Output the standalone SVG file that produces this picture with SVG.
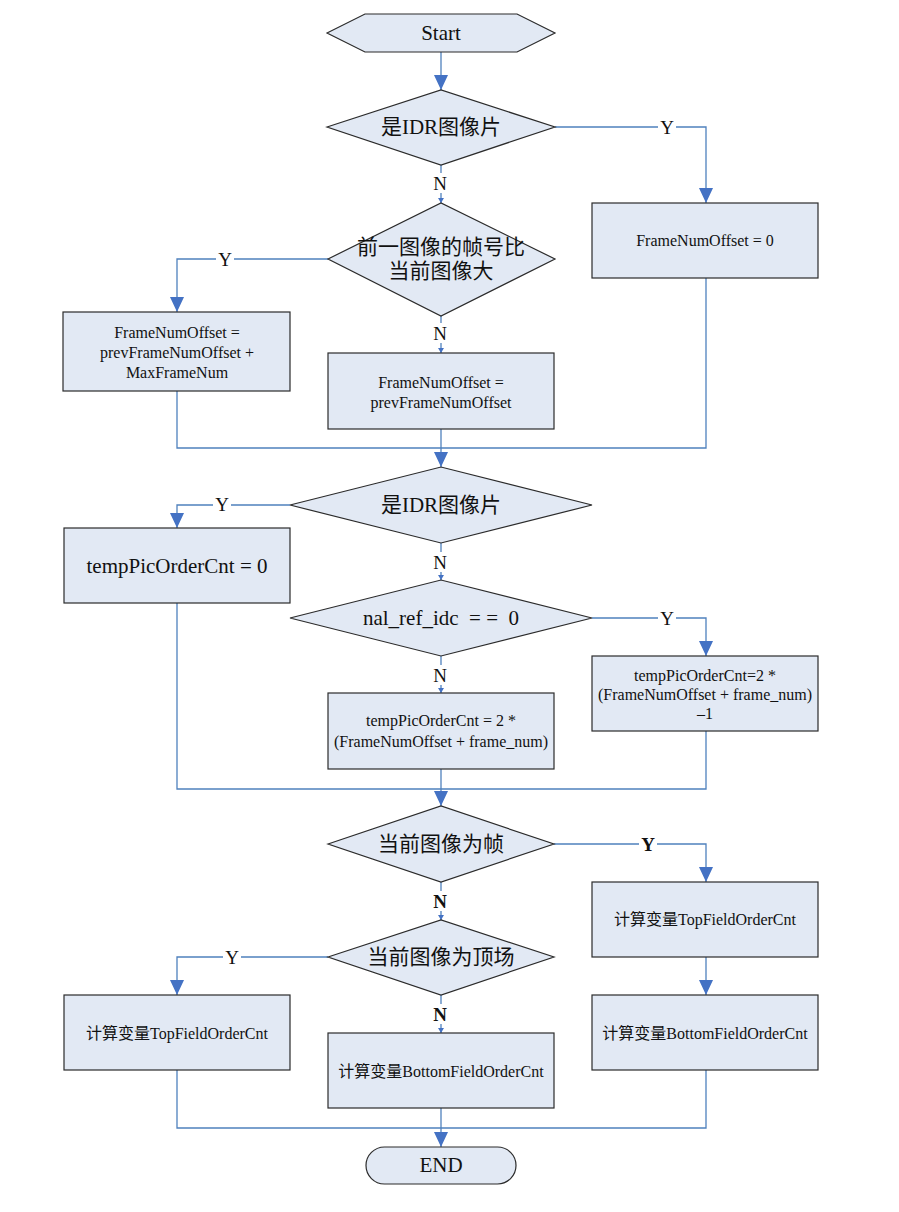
<svg xmlns="http://www.w3.org/2000/svg" width="899" height="1212" viewBox="0 0 899 1212">
<defs>
<style>
.n{fill:#e2e9f4;stroke:#2b2b2b;stroke-width:1.2}
.c{fill:none;stroke:#4f81bd;stroke-width:1.3}
.t{font-family:"Liberation Serif","Noto Sans CJK SC",serif;fill:#111;text-anchor:middle;dominant-baseline:central}
.big{font-size:21px}
.mid{font-size:21px}
.sm{font-size:16px}
.lb{font-size:19px}
.bg{fill:#fff}
</style>
<marker id="a" markerUnits="userSpaceOnUse" markerWidth="16" markerHeight="14" refX="15" refY="7" orient="auto" viewBox="0 0 16 14">
<path d="M0,0 L15,7 L0,14 Z" fill="#4472c4"/>
</marker>
<marker id="s" markerUnits="userSpaceOnUse" markerWidth="6" markerHeight="6" refX="5" refY="3" orient="auto" viewBox="0 0 6 6">
<path d="M0,0 L5,3 L0,6 Z" fill="#4472c4"/>
</marker>
</defs>
<rect width="899" height="1212" fill="#fff"/>
<g id="connectors">
<path class="c" d="M441,52 V90" marker-end="url(#a)"/>
<path class="c" d="M555,127 H706 V203" marker-end="url(#a)"/>
<path class="c" d="M441,165 V203" marker-end="url(#s)"/>
<path class="c" d="M328,259 H177 V312" marker-end="url(#a)"/>
<path class="c" d="M441,316 V353" marker-end="url(#s)"/>
<path class="c" d="M177,391 V448 H706 V278"/>
<path class="c" d="M441,429 V467" marker-end="url(#a)"/>
<path class="c" d="M290,505 H177 V528" marker-end="url(#a)"/>
<path class="c" d="M441,543 V580" marker-end="url(#s)"/>
<path class="c" d="M592,618 H706 V656" marker-end="url(#a)"/>
<path class="c" d="M441,656 V693" marker-end="url(#s)"/>
<path class="c" d="M177,603 V789 H706 V731"/>
<path class="c" d="M441,769 V806" marker-end="url(#a)"/>
<path class="c" d="M554,844 H706 V882" marker-end="url(#a)"/>
<path class="c" d="M706,957 V995" marker-end="url(#a)"/>
<path class="c" d="M441,882 V920" marker-end="url(#s)"/>
<path class="c" d="M328,957 H177 V995" marker-end="url(#a)"/>
<path class="c" d="M441,995 V1033" marker-end="url(#s)"/>
<path class="c" d="M177,1070 V1128 H706 V1070"/>
<path class="c" d="M441,1108 V1147" marker-end="url(#a)"/>
<g id="labels">
<rect class="bg" x="658" y="117" width="18" height="20"/><text class="t lb" x="667" y="127">Y</text>
<rect class="bg" x="431" y="173" width="18" height="20"/><text class="t lb" x="440" y="183">N</text>
<rect class="bg" x="216" y="249" width="18" height="20"/><text class="t lb" x="225" y="259">Y</text>
<rect class="bg" x="431" y="323" width="18" height="20"/><text class="t lb" x="440" y="333">N</text>
<rect class="bg" x="213" y="494" width="18" height="20"/><text class="t lb" x="222" y="504">Y</text>
<rect class="bg" x="431" y="552" width="18" height="20"/><text class="t lb" x="440" y="562">N</text>
<rect class="bg" x="658" y="608" width="18" height="20"/><text class="t lb" x="667" y="618">Y</text>
<rect class="bg" x="431" y="665" width="18" height="20"/><text class="t lb" x="440" y="675">N</text>
<rect class="bg" x="639" y="834" width="18" height="20"/><text class="t lb" x="648" y="844" font-weight="bold">Y</text>
<rect class="bg" x="431" y="891" width="18" height="20"/><text class="t lb" x="440" y="901" font-weight="bold">N</text>
<rect class="bg" x="223" y="947" width="18" height="20"/><text class="t lb" x="232" y="957">Y</text>
<rect class="bg" x="431" y="1004" width="18" height="20"/><text class="t lb" x="440" y="1014" font-weight="bold">N</text>
</g>
</g>
<g id="start"><polygon class="n" points="327,33 365,14 517,14 555,33 517,52 365,52"/><text class="t mid" x="441" y="33">Start</text></g>
<g id="d1"><polygon class="n" points="327,127 441,90 555,127 441,165"/><text class="t big" x="441" y="127">是IDR图像片</text></g>
<g id="b1"><rect class="n" x="592" y="203" width="226" height="75"/><text class="t sm" x="705" y="240">FrameNumOffset = 0</text></g>
<g id="d2"><polygon class="n" points="328,259 441,203 555,259 441,316"/><text class="t big" x="441" y="247">前一图像的帧号比</text><text class="t big" x="441" y="271">当前图像大</text></g>
<g id="b2"><rect class="n" x="63" y="312" width="227" height="79"/><text class="t sm" x="177" y="332">FrameNumOffset =</text><text class="t sm" x="177" y="352">prevFrameNumOffset +</text><text class="t sm" x="177" y="372">MaxFrameNum</text></g>
<g id="b3"><rect class="n" x="328" y="353" width="226" height="76"/><text class="t sm" x="441" y="382">FrameNumOffset =</text><text class="t sm" x="441" y="402">prevFrameNumOffset</text></g>
<g id="d3"><polygon class="n" points="290,505 441,467 592,505 441,543"/><text class="t big" x="441" y="505">是IDR图像片</text></g>
<g id="b4"><rect class="n" x="64" y="528" width="226" height="75"/><text class="t mid" x="177" y="566">tempPicOrderCnt = 0</text></g>
<g id="d4"><polygon class="n" points="290,618 441,580 592,618 441,656"/><text class="t mid" x="441" y="618" xml:space="preserve">nal_ref_idc  = =  0</text></g>
<g id="b5"><rect class="n" x="592" y="656" width="226" height="75"/><text class="t sm" x="705" y="675">tempPicOrderCnt=2 *</text><text class="t sm" x="705" y="694">(FrameNumOffset + frame_num)</text><text class="t sm" x="705" y="713">–1</text></g>
<g id="b6"><rect class="n" x="328" y="693" width="226" height="76"/><text class="t sm" x="441" y="720">tempPicOrderCnt = 2 *</text><text class="t sm" x="441" y="741">(FrameNumOffset + frame_num)</text></g>
<g id="d5"><polygon class="n" points="328,844 441,806 554,844 441,882"/><text class="t big" x="441" y="844">当前图像为帧</text></g>
<g id="b7"><rect class="n" x="592" y="882" width="226" height="75"/><text class="t sm" x="705" y="919">计算变量TopFieldOrderCnt</text></g>
<g id="b8"><rect class="n" x="592" y="995" width="226" height="75"/><text class="t sm" x="705" y="1033">计算变量BottomFieldOrderCnt</text></g>
<g id="d6"><polygon class="n" points="328,957 441,920 554,957 441,995"/><text class="t big" x="441" y="957">当前图像为顶场</text></g>
<g id="b9"><rect class="n" x="64" y="995" width="226" height="75"/><text class="t sm" x="177" y="1033">计算变量TopFieldOrderCnt</text></g>
<g id="b10"><rect class="n" x="328" y="1033" width="226" height="75"/><text class="t sm" x="441" y="1071">计算变量BottomFieldOrderCnt</text></g>
<g id="end"><rect class="n" x="366" y="1147" width="150" height="37" rx="18.5"/><text class="t mid" x="441" y="1165">END</text></g>
</svg>
